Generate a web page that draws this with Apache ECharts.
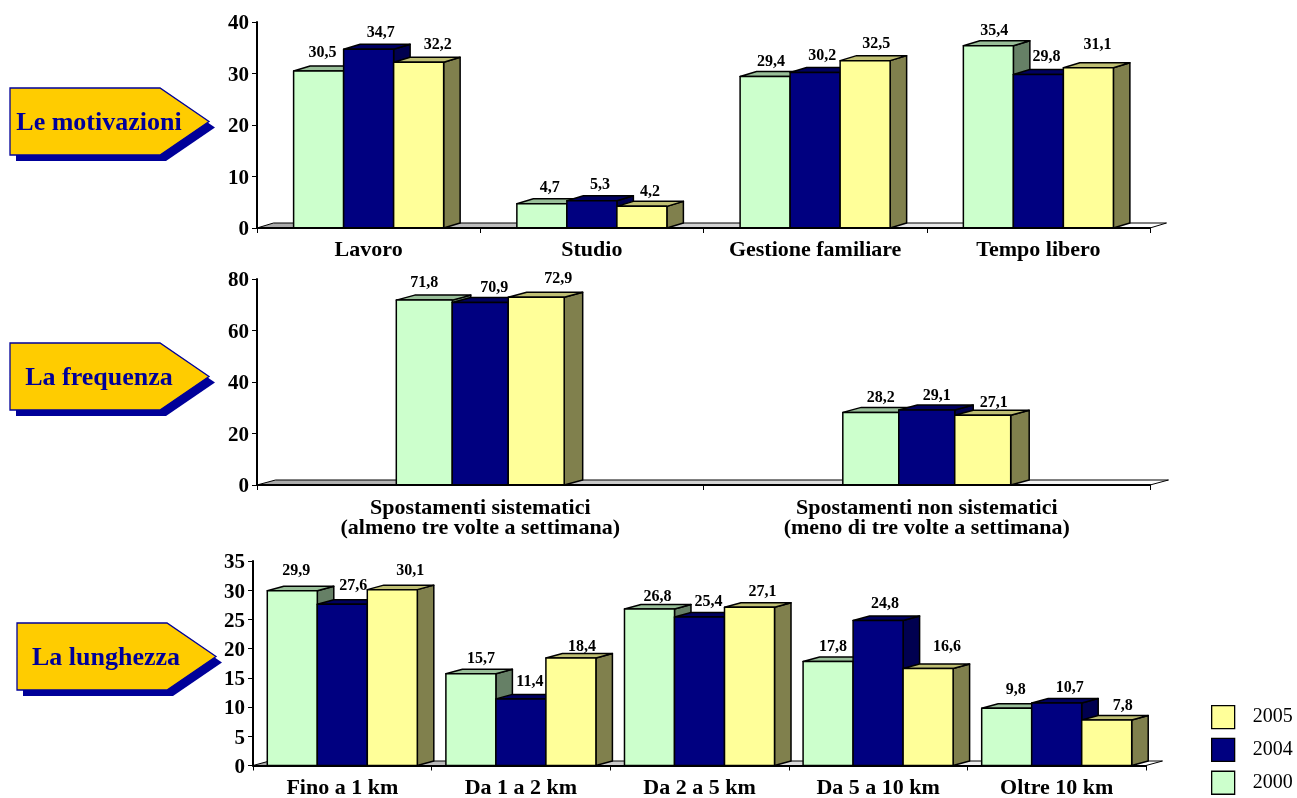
<!DOCTYPE html>
<html>
<head>
  <meta charset="UTF-8">
  <title>Mobilita</title>
  <script src="https://cdn.jsdelivr.net/npm/echarts@6/dist/echarts.min.js"></script>
  <style>html, body { margin: 0; padding: 0; background: #fff; }</style>
</head>
<body>
  <div id="chart" style="width:1297px; height:798px;"></div>
  <script>
    var years = ['2000', '2004', '2005'];
    var legendYears = ['2005', '2004', '2000'];

    var motivazioniCats = ['Lavoro', 'Studio', 'Gestione familiare', 'Tempo libero'];
    var motivazioni2000 = [30.5, 4.7, 29.4, 35.4];
    var motivazioni2004 = [34.7, 5.3, 30.2, 29.8];
    var motivazioni2005 = [32.2, 4.2, 32.5, 31.1];

    var frequenzaCats = ['Spostamenti sistematici\n(almeno tre volte a settimana)', 'Spostamenti non sistematici\n(meno di tre volte a settimana)'];
    var frequenza2000 = [71.8, 28.2];
    var frequenza2004 = [70.9, 29.1];
    var frequenza2005 = [72.9, 27.1];

    var lunghezzaCats = ['Fino a 1 km', 'Da 1 a 2 km', 'Da 2 a 5 km', 'Da 5 a 10 km', 'Oltre 10 km'];
    var lunghezza2000 = [29.9, 15.7, 26.8, 17.8, 9.8];
    var lunghezza2004 = [27.6, 11.4, 25.4, 24.8, 10.7];
    var lunghezza2005 = [30.1, 18.4, 27.1, 16.6, 7.8];

    // front, top, side colours per year
    var faces = [
      ['#ccffcc', '#99bf99', '#668066'],
      ['#000080', '#000060', '#000050'],
      ['#ffff99', '#bfbf73', '#80804d']
    ];
    var serif = '"Liberation Serif", serif';

    // grid rect, bar group share of the band, 3d depth, and label nudges (the labels sit off-centre in the original)
    var panels = [
      {
        cats: motivazioniCats, values: [motivazioni2000, motivazioni2004, motivazioni2005],
        left: 257, width: 893, top: 22, height: 206, max: 40, step: 10, groupShare: 0.672, dx: 16.5, dy: 5, labelMargin: 12,
        nudge: [
          [[4, -20], [8, -17], [6, -16], [6, -16]],
          [[12, -18], [8, -17], [7, -18], [8, -19]],
          [[19, -19], [8, -16], [11, -18], [9, -24]]
        ]
      },
      {
        cats: frequenzaCats, values: [frequenza2000, frequenza2004, frequenza2005],
        left: 257, width: 893, top: 279, height: 206, max: 80, step: 20, groupShare: 0.376, dx: 18.5, dy: 5, labelMargin: 13,
        nudge: [
          [[0, -19], [10, -16]],
          [[14, -16], [10, -16]],
          [[22, -20], [11, -14]]
        ]
      },
      {
        cats: lunghezzaCats, values: [lunghezza2000, lunghezza2004, lunghezza2005],
        left: 253, width: 893, top: 561, height: 204.5, max: 35, step: 5, groupShare: 0.84, dx: 16.5, dy: 4.5, labelMargin: 13,
        nudge: [
          [[4, -21], [10, -16], [8, -14], [5, -16], [9, -20]],
          [[11, -20], [9, -19], [9, -17], [7, -18], [13, -17]],
          [[18, -20], [11, -13], [13, -17], [19, -23], [16, -16]]
        ]
      }
    ];

    function poly(points, fill) {
      return {
        type: 'polygon',
        shape: { points: points },
        style: { fill: fill, stroke: '#000', lineWidth: 1.5, lineJoin: 'round' }
      };
    }

    function barRenderer(panel, yearIndex) {
      return function (params, api) {
        var col = api.value(0);
        var val = api.value(1);
        var band = api.size([1, 0])[0];
        var w = band * panel.groupShare / 3;
        var center = api.coord([col, 0])[0];
        var base = api.coord([col, 0])[1];
        var top = api.coord([col, val])[1];
        var x0 = center + (yearIndex - 1.5) * w;
        var x1 = x0 + w;
        var dx = panel.dx, dy = panel.dy;
        var c = faces[yearIndex];
        var shift = panel.nudge[yearIndex][col];
        return {
          type: 'group',
          children: [
            poly([[x1, base], [x1 + dx, base - dy], [x1 + dx, top - dy], [x1, top]], c[2]),
            poly([[x0, top], [x0 + dx, top - dy], [x1 + dx, top - dy], [x1, top]], c[1]),
            poly([[x0, top], [x1, top], [x1, base], [x0, base]], c[0]),
            {
              type: 'text',
              z2: 10,
              style: {
                x: x0 + w / 2 + shift[0],
                y: top + shift[1] + 1.5,
                text: val.toFixed(1).replace('.', ','),
                align: 'center',
                verticalAlign: 'middle',
                fill: '#000',
                font: 'bold 16px ' + serif
              }
            }
          ]
        };
      };
    }

    function floorRenderer(panel) {
      return function (params) {
        var g = params.coordSys;
        var bottom = g.y + g.height;
        return {
          type: 'polygon',
          shape: {
            points: [[g.x, bottom], [g.x + panel.dx, bottom - panel.dy], [g.x + g.width + panel.dx, bottom - panel.dy], [g.x + g.width, bottom]]
          },
          style: {
            fill: new echarts.graphic.LinearGradient(0, 0, 1, 0, [
              { offset: 0, color: '#a8a8a8' },
              { offset: 1, color: '#ffffff' }
            ]),
            stroke: '#000',
            lineWidth: 1,
            lineJoin: 'round'
          }
        };
      };
    }

    var grids = [], xAxes = [], yAxes = [], series = [];
    panels.forEach(function (panel, p) {
      grids.push({ left: panel.left, top: panel.top, width: panel.width, height: panel.height, outerBoundsMode: 'none' });
      xAxes.push({
        type: 'category',
        gridIndex: p,
        data: panel.cats,
        z: 3,
        axisLine: { lineStyle: { color: '#000', width: 2 } },
        axisTick: { show: true, alignWithLabel: false, length: 5, lineStyle: { color: '#000', width: 1 } },
        axisLabel: { interval: 0, margin: panel.labelMargin, color: '#000', fontFamily: serif, fontWeight: 'bold', fontSize: 22, lineHeight: 20 }
      });
      yAxes.push({
        type: 'value',
        gridIndex: p,
        min: 0,
        max: panel.max,
        interval: panel.step,
        z: 3,
        splitLine: { show: false },
        axisLine: { show: true, lineStyle: { color: '#000', width: 2 } },
        axisTick: { show: true, length: 5, lineStyle: { color: '#000', width: 1 } },
        axisLabel: {
          margin: 8,
          formatter: '{n|{value}}',
          rich: { n: { padding: [4, 0, 0, 0], color: '#000', fontFamily: serif, fontWeight: 'bold', fontSize: 21 } }
        }
      });
      series.push({
        type: 'custom',
        xAxisIndex: p,
        yAxisIndex: p,
        z: 1,
        silent: true,
        data: [[0, 0]],
        encode: { x: 0, y: 1 },
        renderItem: floorRenderer(panel),
        clip: false
      });
      years.forEach(function (year, k) {
        series.push({
          type: 'custom',
          name: year,
          xAxisIndex: p,
          yAxisIndex: p,
          z: 2,
          itemStyle: { color: faces[k][0] },
          data: panel.values[k].map(function (v, j) { return [j, v]; }),
          encode: { x: 0, y: 1 },
          renderItem: barRenderer(panel, k),
          clip: false
        });
      });
    });

    function arrow(x, y, w, h, noseX, text, textX) {
      var noseY = y + (h / 2);
      function pts(o) {
        return [[x + o, y + o], [noseX - 49 + o, y + o], [noseX + o, noseY + o], [noseX - 49 + o, y + h + o], [x + o, y + h + o]];
      }
      return [
        { type: 'polygon', z: 10, shape: { points: pts(6) }, style: { fill: '#000099' } },
        { type: 'polygon', z: 10, shape: { points: pts(0) }, style: { fill: '#ffcc00', stroke: '#000099', lineWidth: 1.3 } },
        {
          type: 'text', z: 11, x: textX, y: noseY + 2,
          style: { text: text, fill: '#000099', font: 'bold 26px ' + serif, align: 'center', verticalAlign: 'middle' }
        }
      ];
    }

    var chart = echarts.init(document.getElementById('chart'), null, { renderer: 'canvas' });
    chart.setOption({
      animation: false,
      backgroundColor: '#fff',
      grid: grids,
      xAxis: xAxes,
      yAxis: yAxes,
      series: series,
      legend: {
        orient: 'vertical',
        left: 1211,
        top: 705,
        height: 300,
        padding: 0,
        itemWidth: 23,
        itemHeight: 23,
        itemGap: 8.5,
        selectedMode: false,
        icon: 'rect',
        data: legendYears,
        itemStyle: { borderColor: '#000', borderWidth: 1.3 },
        textStyle: { color: '#000', fontFamily: serif, fontSize: 20, padding: [0, 0, 0, 13] }
      },
      graphic: [].concat(
        arrow(10, 88, 150, 67, 209, 'Le motivazioni', 99),
        arrow(10, 343, 150, 67, 209, 'La frequenza', 99),
        arrow(17, 623, 149, 67, 216, 'La lunghezza', 106)
      )
    });
  </script>
</body>
</html>
